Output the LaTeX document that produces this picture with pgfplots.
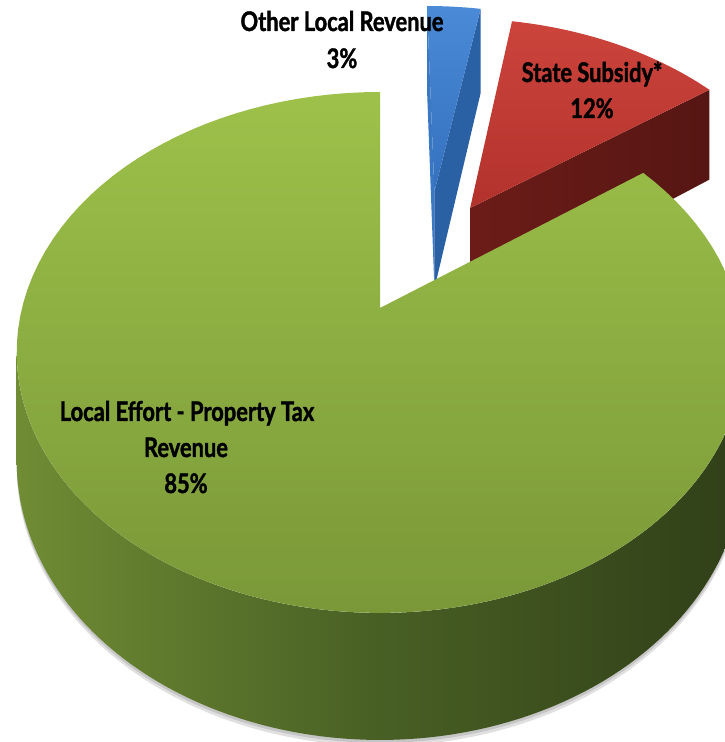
\documentclass[border=0pt]{standalone}
\usepackage{pgfplots}
\pgfplotsset{compat=1.18}
\usepackage{pgfplotstable}
\usepackage{fontspec}
\newfontfamily\labfont{Lato}[UprightFont=* Bold, BoldFont=* Bold, FakeStretch=0.81, FakeBold=1.4]

\definecolor{gTopA}{RGB}{157,193,74}
\definecolor{gTopB}{RGB}{122,152,56}
\definecolor{gSideA}{RGB}{112,140,52}
\definecolor{gSideM}{RGB}{72,95,36}
\definecolor{gSideB}{RGB}{48,63,24}
\definecolor{rTopA}{RGB}{204,68,60}
\definecolor{rTopB}{RGB}{178,50,44}
\definecolor{rSideA}{RGB}{108,28,24}
\definecolor{rSideB}{RGB}{86,22,19}
\definecolor{bTopA}{RGB}{74,138,214}
\definecolor{bTopB}{RGB}{52,112,190}
\definecolor{bSide}{RGB}{42,96,164}
\definecolor{bLeft}{RGB}{58,120,196}

% share of each category (percent), and the offset of each exploded slice
\pgfplotstableread{
label          value  cu     cv
OtherLocal     3      0.165  0.500
StateSubsidy   12     0.270  0.424
LocalEffort    85     0.000  0.000
}\pietable

\newcommand\pietop[5]{%
\addplot[#1, samples at={-1,0,1,...,100,101}]
 ({PX(#2+R(x)*cos(TH(x,#4,#5)),#3+R(x)*sin(TH(x,#4,#5)))},
  {PY(#2+R(x)*cos(TH(x,#4,#5)),#3+R(x)*sin(TH(x,#4,#5)),0)});
}
\newcommand\pieside[6]{%
\addplot[#1, samples at={0,1,...,201}]
 ({PX(#2+cos(TS(x,#4,#5)),#3+sin(TS(x,#4,#5)))},
  {PY(#2+cos(TS(x,#4,#5)),#3+sin(TS(x,#4,#5)),WS(x))+#6});
}
\newcommand\pieface[4]{%
\addplot[#1, samples at={0,1,2,3}]
 ({PX(#2+RF(x)*cos(#4),#3+RF(x)*sin(#4))},
  {PY(#2+RF(x)*cos(#4),#3+RF(x)*sin(#4),WF(x))});
}
\tikzset{lab/.style={anchor=base, inner sep=0pt, font=\labfont\fontsize{27}{32}\selectfont}}

\begin{document}
\begin{tikzpicture}
\pgfplotstablegetelem{0}{value}\of{\pietable}\pgfmathsetmacro\vA{\pgfplotsretval}
\pgfplotstablegetelem{1}{value}\of{\pietable}\pgfmathsetmacro\vB{\pgfplotsretval}
\pgfplotstablegetelem{2}{value}\of{\pietable}\pgfmathsetmacro\vC{\pgfplotsretval}
\pgfplotstablegetelem{0}{cu}\of{\pietable}\pgfmathsetmacro\uA{\pgfplotsretval}
\pgfplotstablegetelem{0}{cv}\of{\pietable}\pgfmathsetmacro\wA{\pgfplotsretval}
\pgfplotstablegetelem{1}{cu}\of{\pietable}\pgfmathsetmacro\uB{\pgfplotsretval}
\pgfplotstablegetelem{1}{cv}\of{\pietable}\pgfmathsetmacro\wB{\pgfplotsretval}
\pgfplotstablegetelem{2}{cu}\of{\pietable}\pgfmathsetmacro\uC{\pgfplotsretval}
\pgfplotstablegetelem{2}{cv}\of{\pietable}\pgfmathsetmacro\wC{\pgfplotsretval}
\pgfmathsetmacro\tA{90}
\pgfmathsetmacro\tB{\tA-3.6*\vA}
\pgfmathsetmacro\tC{\tB-3.6*\vB}
\pgfmathsetmacro\tD{\tC-3.6*\vC}
\pgfmathsetmacro\ts{asin(0.1708)}
\pgfmathsetmacro\sA{max(\tD,-180+\ts)}
\pgfmathsetmacro\sB{min(\tC,-\ts)}
\begin{axis}[
  x=1pt, y=1pt, xmin=0, xmax=725, ymin=0, ymax=742,
  hide axis, clip=true,
  declare function={
    PX(\u,\v)=380+358*\u/(1+0.1708*\v);
    PY(\u,\v,\w)=434+(252.9*\v+105.3*\w)/(1+0.1708*\v);
    R(\t)=and(\t>=0,\t<=100);
    TH(\t,\a,\b)=\a+(\b-\a)*min(max(\t,0),100)/100;
    TS(\t,\a,\b)=ifthenelse(\t<=100.5,\a+(\b-\a)*\t/100,\b-(\b-\a)*(\t-101)/100);
    WS(\t)=ifthenelse(\t<=100.5,0,-1);
    RF(\t)=and(\t>0.5,\t<2.5);
    WF(\t)=ifthenelse(\t>1.5,-1,0);
  },
]
% State Subsidy (red)
\pieface{draw=none, left color=rSideA, right color=rSideB}{\uB}{\wB}{\tC}
\pietop{draw=none, top color=rTopA, bottom color=rTopB}{\uB}{\wB}{\tB}{\tC}
% Other Local Revenue (blue)
\pieface{draw=none, fill=bLeft}{\uA}{\wA}{\tA}
\pieface{draw=none, fill=bSide}{\uA}{\wA}{\tB}
\pietop{draw=none, top color=bTopA, bottom color=bTopB}{\uA}{\wA}{\tA}{\tB}
% Local Effort (green)
\pieside{draw=none, fill=black, opacity=0.12}{\uC}{\wC}{\sA}{\sB}{-6}
\pieside{draw=none, fill=black, opacity=0.12}{\uC}{\wC}{\sA}{\sB}{-3}
\pieside{draw=none, left color=gSideA, right color=gSideB, middle color=gSideM}{\uC}{\wC}{\sA}{\sB}{0}
\pietop{draw=none, top color=gTopA, bottom color=gTopB}{\uC}{\wC}{\tC}{\tD}
% labels
\node[lab] at (axis cs:342,711) {Other Local Revenue};
\node[lab] at (axis cs:342,674) {3\%};
\node[lab] at (axis cs:592,660) {State Subsidy*};
\node[lab] at (axis cs:592,624) {12\%};
\node[lab] at (axis cs:187,321) {Local Effort - Property Tax};
\node[lab] at (axis cs:186,285) {Revenue};
\node[lab] at (axis cs:186,249) {85\%};
\coordinate (BL) at (axis cs:0,0);
\coordinate (TR) at (axis cs:725,742);
\end{axis}
\pgfresetboundingbox
\useasboundingbox (BL) rectangle (TR);
\end{tikzpicture}
\end{document}
